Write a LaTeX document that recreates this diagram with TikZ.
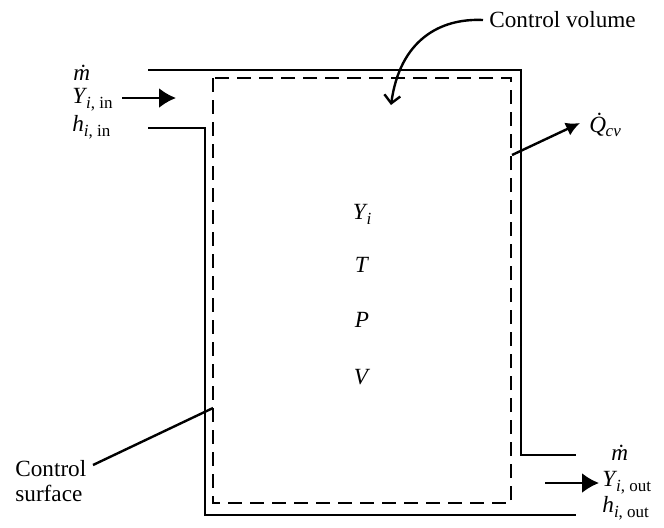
\documentclass[tikz,border=0pt]{standalone}
\usepackage{fontspec}
\setmainfont{Liberation Serif}
\usetikzlibrary{arrows.meta}
\newcommand{\sbx}[1]{\raisebox{-0.45ex}{\fontsize{8.5}{9}\selectfont #1}}
\begin{document}
\begin{tikzpicture}[x=0.5pt,y=-0.5pt, font=\fontsize{11.6}{12.5}\selectfont,
  wall/.style={line width=1.1pt},
  cvbox/.style={line width=1.2pt, dash pattern=on 7pt off 4pt},
  lbl/.style={inner sep=0pt, anchor=west},
  flow/.style={line width=1.2pt,-{Latex[length=8.5pt,width=10pt]}},
  ptr/.style={line width=1.2pt}]
\useasboundingbox (0,0) rectangle (664,527);
% solid walls
\draw[wall] (148,70) -| (521,455) -- (576,455);
\draw[wall] (148,128) -| (205,515) -- (576,515);
% control volume
\draw[cvbox] (213,78) rectangle (511,503);
% inlet
\node[lbl] (m1) at (73,73) {\textit{\.m}};
\node[lbl] (y1) at (72,100) {\textit{Y}\kern-0.6pt\sbx{\textit{i}, in}};
\node[lbl] (h1) at (72,127) {\textit{h}\sbx{\textit{i}, in}};
\coordinate (inA) at (122,98);
\coordinate (inB) at (176,98);
\draw[flow] (inA) -- (inB);
% outlet
\node[lbl] (m2) at (611,453) {\textit{\.m}};
\node[lbl] (y2) at (602,483) {\textit{Y}\kern-0.6pt\sbx{\textit{i}, out}};
\node[lbl] (h2) at (602,508) {\textit{h}\sbx{\textit{i}, out}};
\coordinate (outA) at (545,483);
\coordinate (outB) at (599,483);
\draw[flow] (outA) -- (outB);
% interior
\node (yi) at (362,214) {\textit{Y}\kern-0.6pt\sbx{\textit{i}}};
\node (tt) at (362,265) {\textit{T}};
\node (pp) at (362,320) {\textit{P}};
\node (vv) at (362,377) {\textit{V}};
% control volume label
\node[lbl] (cvl) at (489,20) {Control volume};
\coordinate (cvtip) at (391,105);
\draw[ptr,-{Straight Barb[length=4pt,width=8pt]}] ([xshift=-3pt]cvl.west) .. controls (440,18) and (400,40) .. (cvtip);
% heat
\node[lbl] (q) at (589,125) {\textit{\.Q}\kern-3.5pt\sbx{\textit{cv}}};
\coordinate (qA) at (512,155);
\coordinate (qB) at (580,123);
\draw[ptr,-{Latex[length=7pt,width=7pt]}] (qA) -- (qB);
% control surface
\node[lbl, align=left] (cs) at (15,481) {Control\\surface};
\coordinate (csA) at (93,465);
\coordinate (csB) at (213,408);
\draw[ptr] (csA) -- (csB);
\end{tikzpicture}
\end{document}
